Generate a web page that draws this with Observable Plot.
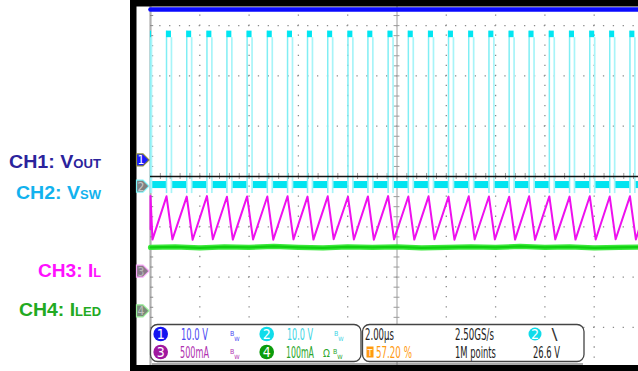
<!DOCTYPE html>
<html><head><meta charset="utf-8">
<script src="https://cdn.jsdelivr.net/npm/d3@7"></script>
<script src="https://cdn.jsdelivr.net/npm/@observablehq/plot@0.6"></script>
<style>
body{margin:0;background:#fff}
#wrap{position:relative;width:638px;height:371px;overflow:hidden;background:#fff}
#wrap svg{position:absolute;left:0;top:0}
</style></head><body><div id="wrap"></div>
<script>
// ---- channel setup ----
const channels = ["1", "2", "3", "4"];
const chLabels = ["CH1: V", "CH2: V", "CH3: I", "CH4: I"];
const chSubs = ["OUT", "SW", "L", "LED"];
const chLabelColors = ["#2b239c", "#12b2ee", "#ff10ff", "#22aa22"];
const chPos = [0.32, -0.20, -1.89, -2.68];      // ground marker position, divisions
const chPerDiv = [10, 10, 500, 100];            // V/div, V/div, mA/div, mA/div

// ---- CH1 Vout (V) ----
const ch1Times = [0, 20];
const ch1Values = [30.0, 30.0];

// ---- CH2 Vsw: pulse rising-edge times (µs) ----
const vswRise = [-0.16, 0.65, 1.47, 2.29, 3.10, 3.92, 4.74, 5.56, 6.37, 7.19, 8.01, 8.82, 9.64,
  10.46, 11.28, 12.09, 12.91, 13.73, 14.55, 15.36, 16.18, 17.00, 17.82, 18.63, 19.45];
const vswWidth = 0.20;
const vswLevels = {low: 0.3, bandTop: 1.0, bandBottom: -0.4, high: 29.6, peak: 30.9, ringLow: -1.4};

// ---- CH3 IL (mA): peaks at rising edges, troughs after falling edges ----
const ilPeaks = [752, 748, 745, 750, 744, 747, 746, 749, 745, 748, 744, 747, 750, 746, 748, 745,
  749, 746, 744, 748, 747, 745, 749, 746, 748];
const ilTroughs = [318, 320, 316, 321, 318, 319, 317, 320, 318, 322, 319, 317, 320, 318, 321, 317,
  319, 320, 318, 316, 320, 318, 319, 321, 319];

// ---- CH4 ILED (mA) ----
const ch4Times = [0, 1, 2, 3, 4, 5, 6, 7, 8, 9, 10, 11, 12, 13, 14, 15, 16, 17, 18, 19, 20];
const ch4Values = [127, 128, 126, 128, 127, 129, 127, 126, 128, 127, 128, 126, 127, 128, 127, 129, 127, 128, 126, 127, 128];

// ---- readout box ----
const readTop = [["10.0 V", "#4a4af2"], ["10.0 V", "#3cd4e4"]];
const readBot = [["500mA", "#b030b0"], ["100mA", "#2aa52a"]];
const timebase = ["2.00µs", "2.50GS/s", "1M points", "57.20 %", "26.6 V"];

const yDiv = (ch, v) => chPos[ch] + v / chPerDiv[ch];

const vswTable = vswRise.map(r => ({rise: r, fall: r + vswWidth}));
const lowSegs = vswRise.slice(0, -1).map((r, i) => ({a: r + vswWidth + 0.03, b: vswRise[i + 1]}));
lowSegs.push({a: vswRise[vswRise.length - 1] + vswWidth + 0.03, b: 20});

const ilPts = [{t: 0, v: 420}];
vswRise.forEach((r, i) => {
  ilPts.push({t: r, v: ilPeaks[i]});
  ilPts.push({t: r + vswWidth + 0.04, v: ilTroughs[i]});
});
ilPts.push({t: 20, v: 560});

const ch4Pts = ch4Times.map((t, i) => ({t, v: ch4Values[i]}));
const vTicks = d3.range(-4, 4.001, 0.2);
const hTicks = d3.range(0, 20.001, 0.4);

const chart = Plot.plot({
  width: 638, height: 371, margin: 0,
  x: {domain: [0, 20], range: [150, 643], clamp: true, axis: null},
  y: {domain: [-4, 4], range: [377.2, -25.2], axis: null},
  marks: [
    Plot.ruleX([2, 4, 6, 8, 12, 14, 16, 18], {y1: 4, y2: -4, stroke: "#8a8a8a", strokeWidth: 1.3, strokeDasharray: "1.3 8.76", strokeDashoffset: 0.65}),
    Plot.ruleY([3, 2, 1, -1, -2, -3], {x1: 0, x2: 20, stroke: "#8a8a8a", strokeWidth: 1.3, strokeDasharray: "1.3 8.56", strokeDashoffset: 0.65}),
    Plot.ruleX([10], {y1: 4, y2: -4, stroke: "#9c9c9c", strokeWidth: 1}),
    Plot.ruleY(vTicks, {y: d => d, x1: 9.88, x2: 10.12, stroke: "#9c9c9c", strokeWidth: 1}),
    Plot.ruleX(hTicks, {x: d => d, y1: -0.06, y2: 0.06, stroke: "#9c9c9c", strokeWidth: 1}),
    Plot.ruleX([0], {y1: 4, y2: -4, stroke: "#b0b0b0", strokeWidth: 2.2}),
    Plot.ruleY(vTicks, {y: d => d, x1: 0, x2: 0.13, stroke: "#8a8a8a", strokeWidth: 1}),
    // CH4
    Plot.line(ch4Pts, {x: "t", y: d => yDiv(3, d.v), stroke: "#3ce83c", strokeWidth: 5.2}),
    Plot.line(ch4Pts, {x: "t", y: d => yDiv(3, d.v), stroke: "#10d010", strokeWidth: 2.2}),
    // CH3
    Plot.line(ilPts, {x: "t", y: d => yDiv(2, d.v), stroke: "#ee10ee", strokeWidth: 2}),
    // CH2
    Plot.rect(lowSegs, {x1: "a", x2: "b", y1: yDiv(1, vswLevels.bandBottom), y2: yDiv(1, vswLevels.bandTop), fill: "#00e4f0"}),
    Plot.ruleX(vswTable, {x: "rise", y1: yDiv(1, vswLevels.ringLow), y2: yDiv(1, vswLevels.peak), stroke: "#80eef4", strokeWidth: 1.5}),
    Plot.ruleX(vswTable, {x: "fall", y1: yDiv(1, vswLevels.ringLow), y2: yDiv(1, vswLevels.high), stroke: "#a8f4f8", strokeWidth: 1.7}),
    Plot.rect(vswTable, {x1: "rise", x2: "fall", y1: yDiv(1, vswLevels.high), y2: yDiv(1, vswLevels.peak), fill: "#00e6f2"}),
    // center horizontal
    Plot.ruleY([0], {x1: 0, x2: 20, stroke: "#111", strokeWidth: 1.4}),
    // CH1
    Plot.line(ch1Times.map((t, i) => ({t, v: ch1Values[i]})), {x: "t", y: d => yDiv(0, d.v), stroke: "#0a0aff", strokeWidth: 4.6})
  ]
});
document.getElementById("wrap").appendChild(chart);
const ys = chart.scale("y");

// ---- overlay: frame, markers, labels, readout ----
const ov = d3.select("#wrap").append("svg").attr("width", 638).attr("height", 371);
ov.append("rect").attr("x", 130).attr("y", 0).attr("width", 508).attr("height", 6.5).attr("fill", "#000");
ov.append("rect").attr("x", 130).attr("y", 0).attr("width", 6.5).attr("height", 371).attr("fill", "#000");
ov.append("rect").attr("x", 130).attr("y", 365).attr("width", 508).attr("height", 6).attr("fill", "#000");

const mFill = ["#1a1aff", "#808080", "#8a7a8a", "#7a8a7a"];
const mStroke = ["#8a8a40", "#7ff4f8", "#f8a8f8", "#9af09a"];
const mText = ["#fff", "#c8c8c8", "#b8b8b8", "#c0c0c0"];
channels.forEach((c, i) => {
  const cy = ys.apply(chPos[i]);
  ov.append("path").attr("d", `M136.5,${cy - 6}H143L149,${cy}L143,${cy + 6}H136.5Z`)
    .attr("fill", mFill[i]).attr("stroke", mStroke[i]).attr("stroke-width", 1.2);
  ov.append("text").attr("x", 141).attr("y", cy + 4.5).attr("text-anchor", "middle")
    .attr("font-family", "DejaVu Sans Condensed, sans-serif").attr("font-size", 12).attr("fill", mText[i]).text(c);
});

const labelLen = [92, 85, 63, 82];
const labelBase = [168, 199, 277, 316];
chLabels.forEach((l, i) => {
  const t = ov.append("text").attr("x", 101).attr("y", labelBase[i]).attr("text-anchor", "end")
    .attr("font-family", "Liberation Sans, Arial, sans-serif").attr("font-weight", "bold")
    .attr("font-size", 18).attr("fill", chLabelColors[i])
    .attr("textLength", labelLen[i]).attr("lengthAdjust", "spacingAndGlyphs");
  t.append("tspan").text(l);
  t.append("tspan").attr("font-size", 12).text(chSubs[i]);
});

// readout boxes
ov.append("rect").attr("x", 150.5).attr("y", 324.5).attr("width", 210.5).attr("height", 37).attr("rx", 7)
  .attr("fill", "#fff").attr("stroke", "#444").attr("stroke-width", 1.3);
ov.append("rect").attr("x", 362.5).attr("y", 324.5).attr("width", 221.5).attr("height", 37).attr("rx", 7)
  .attr("fill", "#fff").attr("stroke", "#444").attr("stroke-width", 1.3);
ov.append("line").attr("x1", 152).attr("x2", 583).attr("y1", 364).attr("y2", 364).attr("stroke", "#555").attr("stroke-width", 1);

const FONT = "DejaVu Sans Condensed, Liberation Sans Narrow, sans-serif";
function txt(x, y, s, color, len, size = 15) {
  const t = ov.append("text").attr("x", 0).attr("y", 0).attr("font-family", FONT)
    .attr("font-size", size).attr("fill", color).text(s);
  let sx = 1;
  if (len) {
    const w = t.node().getComputedTextLength();
    if (w > 0) sx = len / w;
  }
  t.attr("transform", `translate(${x},${y}) scale(${sx},1)`);
  return t;
}
function badge(cx, cy, r, fill, s) {
  ov.append("circle").attr("cx", cx).attr("cy", cy).attr("r", r).attr("fill", fill);
  ov.append("text").attr("x", cx).attr("y", cy + 5).attr("text-anchor", "middle").attr("font-family", FONT)
    .attr("font-size", 14).attr("fill", "#fff").text(s);
}
function bw(x, yb, color) {
  const t = ov.append("text").attr("x", x).attr("y", yb - 4).attr("font-family", FONT)
    .attr("font-size", 7).attr("fill", color);
  t.append("tspan").text("B");
  t.append("tspan").attr("font-size", 6).attr("dy", 5).text("W");
}
badge(160.7, 334, 7.3, "#1414f0", "1");
badge(266.7, 334, 7.3, "#10dcea", "2");
badge(160.7, 352, 7.3, "#a0189f", "3");
badge(266.7, 352, 7.3, "#0c9c0c", "4");
txt(181, 340, readTop[0][0], readTop[0][1], 27);
txt(287, 340, readTop[1][0], readTop[1][1], 26);
txt(180, 358, readBot[0][0], readBot[0][1], 29);
txt(286, 358, readBot[1][0], readBot[1][1], 28);
bw(230, 340, "#4a4af2"); bw(334, 340, "#3cd4e4"); bw(230, 358, "#b030b0");
txt(323, 357, "Ω", "#2aa52a", 0, 10);
bw(333, 358, "#2aa52a");

txt(365, 340, timebase[0], "#222", 29);
txt(455, 340, timebase[1], "#222", 39);
badge(535, 334, 6.5, "#10dcea", "2");
txt(551.5, 340, "\\", "#333", 6);
ov.append("rect").attr("x", 366.5).attr("y", 346.5).attr("width", 7).attr("height", 11).attr("fill", "#ff9a10");
ov.append("text").attr("x", 370).attr("y", 356).attr("text-anchor", "middle").attr("font-family", FONT)
  .attr("font-size", 9).attr("fill", "#fff").text("T");
txt(376, 358, timebase[3], "#ff9a10", 36);
txt(455, 358, timebase[2], "#222", 41);
txt(533, 358, timebase[4], "#222", 27);
</script></body></html>
